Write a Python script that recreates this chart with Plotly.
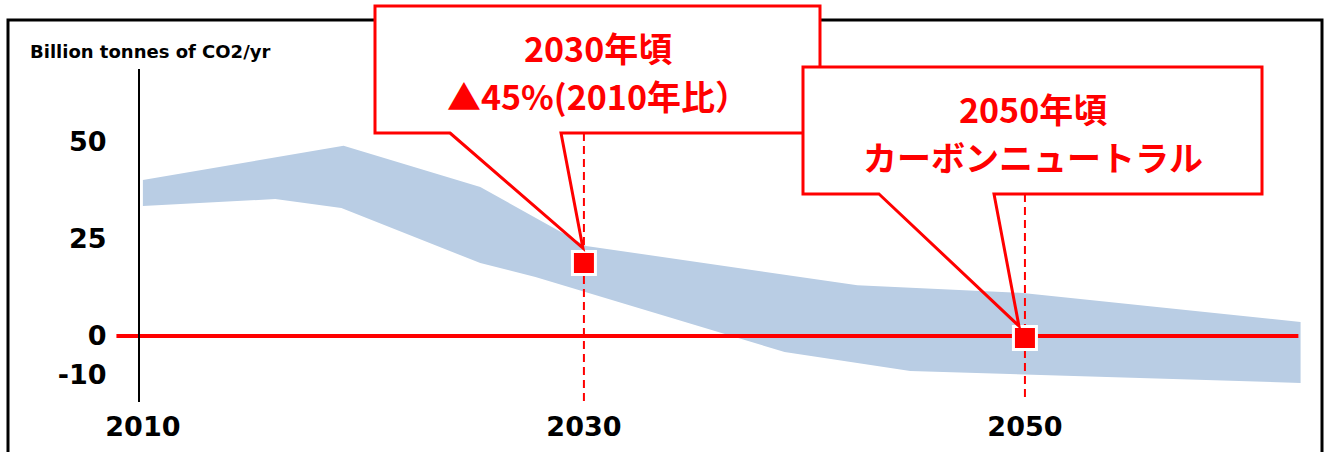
import plotly.graph_objects as go

W, H = 1333, 452

# ---------------- data ----------------
band_upper_years = [2010, 2019.1, 2025.3, 2030.1, 2042.4, 2049.9, 2062.5]
band_upper_vals = [40.2, 49.0, 38.4, 23.2, 13.1, 11.1, 3.6]
band_lower_years = [2010, 2016.0, 2019.0, 2025.3, 2027.8, 2039.1, 2044.8, 2062.5]
band_lower_vals = [33.5, 35.3, 33.0, 18.8, 15.2, -4.1, -9.0, -12.1]
net_zero_years = [2008.8, 2062.4]
net_zero_vals = [0, 0]
milestone_years = [2030, 2050]
milestone_vals = [18.8, -0.5]
x_tick_vals = [2010, 2030, 2050]
y_tick_vals = [50, 25, 0, -10]
y_title = "Billion tonnes of CO2/yr"
callout_line1 = ["2030年頃", "2050年頃"]
callout_line2 = ["▲45%(2010年比）", "カーボンニュートラル"]

# ---------------- geometry / style (pixel units) ----------------
PLOT_TOP, PLOT_BOTTOM = 69, 402
M_T = PLOT_TOP
M_B = H - PLOT_BOTTOM
X_RANGE = [2003.52, 2063.97]
Y_RANGE = [-17.0, 68.8]
PLOT_H = H - M_T - M_B
RED = "#ff0000"
BAND = "#b9cde4"


def px_x(px):
    return px / W


def px_y(py):
    return (PLOT_BOTTOM - py) / PLOT_H


def data_to_px(x, y):
    px = (x - X_RANGE[0]) / (X_RANGE[1] - X_RANGE[0]) * W
    py = PLOT_TOP + (Y_RANGE[1] - y) / (Y_RANGE[1] - Y_RANGE[0]) * PLOT_H
    return px, py


def py_to_data(py):
    return Y_RANGE[1] - (py - PLOT_TOP) / PLOT_H * (Y_RANGE[1] - Y_RANGE[0])


boxes = [
    dict(l=375, t=6, r=820, b=133, pl=450, pr=561, off=(-1, -15)),
    dict(l=803, t=67, r=1262, b=194, pl=879, pr=994, off=(-6, -12)),
]

fig = go.Figure()

# band (closed polygon from upper + reversed lower boundary)
fig.add_trace(go.Scatter(
    x=band_upper_years + band_lower_years[::-1],
    y=band_upper_vals + band_lower_vals[::-1],
    mode="lines", fill="toself", fillcolor=BAND,
    line=dict(width=0, color=BAND), hoverinfo="skip", showlegend=False,
))

# net zero line
fig.add_trace(go.Scatter(
    x=net_zero_years, y=net_zero_vals, mode="lines",
    line=dict(color=RED, width=4), showlegend=False,
))

# dashed guide lines from the callouts down to the axis
for yr, bx in zip(milestone_years, boxes):
    fig.add_trace(go.Scatter(
        x=[yr, yr], y=[py_to_data(bx["b"]), Y_RANGE[0] - 2], mode="lines",
        line=dict(color=RED, width=2, dash="8px,5px"), showlegend=False,
    ))

# milestone markers
fig.add_trace(go.Scatter(
    x=milestone_years, y=milestone_vals, mode="markers",
    marker=dict(symbol="square", size=23, color=RED, line=dict(color="white", width=3)),
    showlegend=False, cliponaxis=False,
))

shapes = []
# outer frame
shapes.append(dict(type="rect", xref="paper", yref="paper",
                   x0=px_x(8), x1=px_x(1322), y0=px_y(490), y1=px_y(20),
                   line=dict(color="black", width=3), fillcolor="rgba(0,0,0,0)", layer="above"))

annotations = []
for yr, val, bx, l1, l2 in zip(milestone_years, milestone_vals, boxes, callout_line1, callout_line2):
    mx, my = data_to_px(yr, val)
    tx, ty = mx + bx["off"][0], my + bx["off"][1]
    shapes.append(dict(type="rect", xref="paper", yref="paper",
                       x0=px_x(bx["l"]), x1=px_x(bx["r"]), y0=px_y(bx["b"]), y1=px_y(bx["t"]),
                       line=dict(width=0), fillcolor="white", layer="above"))
    pts = [(bx["pl"], bx["b"]), (tx, ty), (bx["pr"], bx["b"]), (bx["r"], bx["b"]),
           (bx["r"], bx["t"]), (bx["l"], bx["t"]), (bx["l"], bx["b"])]
    path = "M " + " L ".join(f"{px_x(a):.5f},{px_y(b):.5f}" for a, b in pts) + " Z"
    shapes.append(dict(type="path", xref="paper", yref="paper", path=path,
                       line=dict(color=RED, width=3), fillcolor="rgba(0,0,0,0)", layer="above"))
    cx = (bx["l"] + bx["r"]) / 2
    for txt, dy in ((l1, 42), (l2, 89)):
        annotations.append(dict(
            text=txt, xref="paper", yref="paper", x=px_x(cx), y=px_y(bx["t"] + dy),
            xanchor="center", yanchor="middle", showarrow=False,
            font=dict(family="Noto Sans CJK JP", size=34, color=RED, weight="bold"),
        ))

fig.update_layout(
    width=W, height=H,
    margin=dict(l=0, r=0, t=M_T, b=M_B, pad=0),
    paper_bgcolor="white", plot_bgcolor="white",
    showlegend=False, hovermode=False,
    shapes=shapes, annotations=annotations,
    title=dict(text=f"<b>{y_title}</b>", x=30 / W, xanchor="left", xref="paper",
               y=1 - 52 / H, yanchor="middle",
               font=dict(family="DejaVu Sans", size=18, color="black")),
    xaxis=dict(range=X_RANGE, showgrid=False, zeroline=False, showline=False,
               tickvals=x_tick_vals, ticktext=[str(v) for v in x_tick_vals],
               ticks="", ticklabelstandoff=6, automargin=False,
               tickfont=dict(family="DejaVu Sans", size=27, color="black", weight="bold")),
    yaxis=dict(range=Y_RANGE, showgrid=False, zeroline=False, showline=True,
               linecolor="black", linewidth=2, anchor="free", position=139 / W,
               tickvals=y_tick_vals, ticktext=[str(v) for v in y_tick_vals],
               ticks="", ticklabelstandoff=26, automargin=False,
               tickfont=dict(family="DejaVu Sans", size=27, color="black", weight="bold")),
)

# remove the default 8px page margin so the figure fills the window exactly
fig.write_html("out.html",
               config={"displayModeBar": False},
               post_script="document.body.style.margin='0px';document.body.style.overflow='hidden';")
